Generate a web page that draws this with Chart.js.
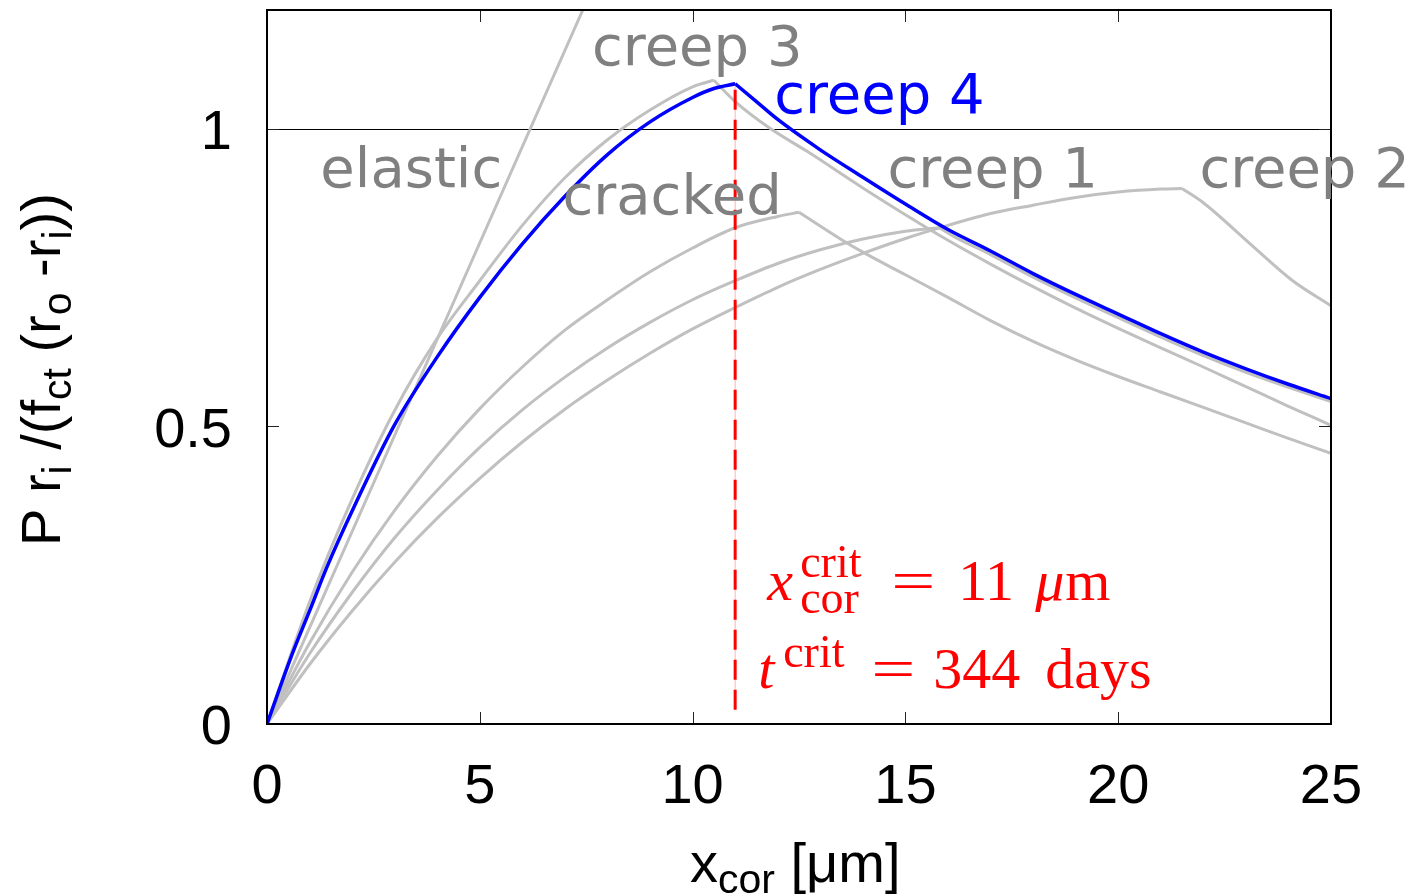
<!DOCTYPE html>
<html>
<head>
<meta charset="utf-8">
<script src="https://cdn.jsdelivr.net/npm/chart.js@4.4.0/dist/chart.umd.min.js"></script>
<style>
  html, body { margin: 0; padding: 0; background: #fff; }
  #wrap { width: 1411px; height: 896px; }
</style>
</head>
<body>
<div id="wrap"><canvas id="chart" width="1411" height="896"></canvas></div>
<script>
// normalised pressure vs corrosion depth, one curve per stage
const xElastic = [0, 7.42];
const yElastic = [0, 1.2];

const xCracked = [0, 1, 2, 3, 4, 5, 6, 7, 8, 9, 10, 11, 12, 12.5, 13.5, 14, 15, 16, 17, 18, 19, 20, 21, 22, 23, 24, 25];
const yCracked = [0, 0.136, 0.255, 0.359, 0.450, 0.530, 0.600, 0.662, 0.713, 0.760, 0.800, 0.834, 0.853, 0.860, 0.814, 0.793, 0.755, 0.717, 0.678, 0.643, 0.612, 0.584, 0.558, 0.532, 0.506, 0.480, 0.455];

const xCreep1 = [0, 1, 2, 3, 4, 5, 6, 7, 8, 9, 10, 11, 12, 13, 14, 15, 15.8, 16.2, 17, 18, 19, 20, 21, 22, 23, 24, 25];
const yCreep1 = [0, 0.118, 0.221, 0.313, 0.393, 0.465, 0.528, 0.583, 0.632, 0.675, 0.713, 0.745, 0.774, 0.797, 0.815, 0.828, 0.834, 0.817, 0.789, 0.751, 0.716, 0.683, 0.650, 0.619, 0.591, 0.566, 0.542];

const xCreep2 = [0, 1, 2, 3, 4, 5, 6, 7, 8, 9, 10, 11, 12, 13, 14, 15, 16, 17, 18, 19, 20, 21, 21.5, 22, 23.1, 24.1, 25];
const yCreep2 = [0, 0.100, 0.190, 0.272, 0.346, 0.413, 0.474, 0.529, 0.578, 0.623, 0.664, 0.700, 0.734, 0.764, 0.791, 0.816, 0.838, 0.858, 0.872, 0.885, 0.894, 0.899, 0.900, 0.876, 0.807, 0.745, 0.703];

const xCreep3 = [0, 1, 2, 3, 4, 5, 6, 7, 8, 9, 10, 10.5, 11, 11.8, 12.7, 14, 15, 16, 17, 18, 19, 20, 21, 22, 23, 24, 25];
const yCreep3 = [0, 0.205, 0.378, 0.527, 0.648, 0.745, 0.838, 0.918, 0.982, 1.032, 1.071, 1.082, 1.046, 1.002, 0.962, 0.901, 0.856, 0.813, 0.773, 0.735, 0.699, 0.665, 0.632, 0.600, 0.567, 0.534, 0.502];

const xCreep4 = [0, 0.6, 1, 1.41, 2, 3, 4, 5, 6, 7, 8, 9, 10, 10.5, 11, 11.5, 12, 13, 14, 15, 16, 17, 18, 19, 20, 21, 22, 23, 24, 25];
const yCreep4 = [0, 0.119, 0.19, 0.264, 0.358, 0.503, 0.617, 0.717, 0.807, 0.887, 0.957, 1.012, 1.053, 1.068, 1.076, 1.046, 1.016, 0.965, 0.919, 0.874, 0.831, 0.795, 0.757, 0.722, 0.689, 0.656, 0.625, 0.597, 0.571, 0.547];

// critical corrosion depth [um] and time [days]
const critX = 11;
const critDays = 344;
const critBottom = 0.024;
const critTop = 1.076;

const xTicks = [0, 5, 10, 15, 20, 25];
const yTicks = [0, 0.5, 1];
const yTickLabels = ['0', '0.5', '1'];
const refLevel = 1;

// curve labels: text, x, y (baseline), colour
const labelText = ['elastic', 'creep 3', 'creep 4', 'cracked', 'creep 1', 'creep 2'];
const labelX = [3.39, 10.11, 14.39, 9.52, 17.05, 24.38];
const labelY = [0.903, 1.107, 1.027, 0.857, 0.903, 0.903];
const labelColor = ['#808080', '#808080', '#0000ff', '#808080', '#808080', '#808080'];

const GREY = '#c0c0c0';

function pts(xs, ys) {
    return xs.map((x, i) => ({x: x, y: ys[i]}));
}

// split at the peak so the corner stays sharp, smooth on both sides
function curve(xs, ys, color, width, order) {
    const all = pts(xs, ys);
    const k = ys.indexOf(Math.max(...ys));
    const pieces = (k > 0 && k < ys.length - 1) ? [all.slice(0, k + 1), all.slice(k)] : [all];
    return pieces.map(p => ({
        data: p,
        showLine: true,
        borderColor: color,
        borderWidth: width,
        pointRadius: 0,
        cubicInterpolationMode: 'monotone',
        fill: false,
        order: order
    }));
}

function drawParts(ctx, x0, y0, parts) {
    parts.forEach(p => {
        ctx.font = p.font;
        ctx.save();
        ctx.translate(x0 + p.dx, y0 + p.dy);
        if (p.sx) ctx.scale(p.sx, 1);
        ctx.fillText(p.t, 0, 0);
        ctx.restore();
    });
}

const decorations = {
    id: 'decorations',
    beforeDatasetsDraw(chart) {
        // horizontal reference line at 1
        const ctx = chart.ctx;
        const a = chart.chartArea;
        const py = Math.round(chart.scales.y.getPixelForValue(refLevel)) + 0.5;
        ctx.save();
        ctx.strokeStyle = '#000';
        ctx.lineWidth = 1;
        ctx.beginPath();
        ctx.moveTo(a.left, py);
        ctx.lineTo(a.right, py);
        ctx.stroke();
        ctx.restore();
    },
    afterDraw(chart) {
        const ctx = chart.ctx;
        const a = chart.chartArea;
        const xs = chart.scales.x;
        const ys = chart.scales.y;
        ctx.save();

        // inward tick marks on all four sides
        ctx.strokeStyle = '#222';
        ctx.lineWidth = 1;
        ctx.beginPath();
        xTicks.forEach(v => {
            const px = Math.round(xs.getPixelForValue(v)) + 0.5;
            ctx.moveTo(px, a.bottom); ctx.lineTo(px, a.bottom - 12);
            ctx.moveTo(px, a.top); ctx.lineTo(px, a.top + 12);
        });
        yTicks.forEach(v => {
            const py = Math.round(ys.getPixelForValue(v)) + 0.5;
            ctx.moveTo(a.left, py); ctx.lineTo(a.left + 12, py);
            ctx.moveTo(a.right, py); ctx.lineTo(a.right - 12, py);
        });
        ctx.stroke();

        // frame
        ctx.strokeStyle = '#000';
        ctx.lineWidth = 2;
        ctx.strokeRect(a.left, a.top, a.right - a.left, a.bottom - a.top);

        // tick labels
        const sans = '"Liberation Sans"';
        const big = '56px ' + sans;
        const small = '41px ' + sans;
        ctx.fillStyle = '#000';
        ctx.font = big;
        ctx.textBaseline = 'alphabetic';
        ctx.textAlign = 'center';
        xTicks.forEach(v => {
            ctx.fillText(String(v), xs.getPixelForValue(v), a.bottom + 79);
        });
        ctx.textAlign = 'right';
        yTicks.forEach((v, i) => {
            ctx.fillText(yTickLabels[i], a.left - 35, ys.getPixelForValue(v) + 20);
        });

        // curve labels
        ctx.font = '56px "DejaVu Sans"';
        ctx.textAlign = 'center';
        labelText.forEach((t, i) => {
            ctx.fillStyle = labelColor[i];
            ctx.fillText(t, xs.getPixelForValue(labelX[i]), ys.getPixelForValue(labelY[i]));
        });

        // critical point annotation
        ctx.textAlign = 'left';
        ctx.fillStyle = '#ff0000';
        const serif = '"Liberation Serif"';
        const cx = xs.getPixelForValue(critX);
        drawParts(ctx, cx + 32, a.bottom - 124, [
            {t: 'x', dx: 0, dy: 0, font: 'italic 58px ' + serif},
            {t: 'crit', dx: 33, dy: -23, font: '46px ' + serif},
            {t: 'cor', dx: 33, dy: 13, font: '46px ' + serif},
            {t: '=', dx: 124, dy: 0, font: '58px ' + serif, sx: 1.35},
            {t: String(critX), dx: 191, dy: 0, font: '58px ' + serif},
            {t: 'μ', dx: 268, dy: 0, font: 'italic 58px ' + serif},
            {t: 'm', dx: 298, dy: 0, font: '58px ' + serif}
        ]);
        drawParts(ctx, cx + 23, a.bottom - 36, [
            {t: 't', dx: 0, dy: 0, font: 'italic 58px ' + serif},
            {t: 'crit', dx: 25, dy: -21, font: '46px ' + serif},
            {t: '=', dx: 113, dy: 0, font: '58px ' + serif, sx: 1.35},
            {t: String(critDays), dx: 175, dy: 0, font: '58px ' + serif},
            {t: 'days', dx: 287, dy: 0, font: '58px ' + serif}
        ]);

        // axis titles
        ctx.fillStyle = '#000';
        let px = 690;
        [['x', big, 0], ['cor', small, 11], [' [μm]', big, 0]].forEach(s => {
            ctx.font = s[1];
            ctx.fillText(s[0], px, 882 + s[2]);
            px += ctx.measureText(s[0]).width;
        });

        ctx.translate(60, 546);
        ctx.rotate(-Math.PI / 2);
        px = 0;
        [['P r', big, 0], ['i', small, 11], [' /(f', big, 0], ['ct', small, 11],
         [' (r', big, 0], ['o', small, 11], [' -r', big, 0], ['i', small, 11], ['))', big, 0]].forEach(s => {
            ctx.font = s[1];
            ctx.fillText(s[0], px, s[2]);
            px += ctx.measureText(s[0]).width;
        });

        ctx.restore();
    }
};

const ctx = document.getElementById('chart').getContext('2d');
new Chart(ctx, {
    type: 'scatter',
    data: {
        datasets: [
            {
                data: [{x: critX, y: critBottom}, {x: critX, y: critTop}],
                showLine: true, borderColor: '#ff0000', borderWidth: 3,
                borderDash: [20, 10], pointRadius: 0, order: 0
            },
            {
                data: [{x: critX, y: critBottom}, {x: critX, y: critTop}],
                showLine: true, borderColor: 'rgba(255,0,0,0.3)', borderWidth: 1,
                pointRadius: 0, order: 0
            },
            ...curve(xCreep4, yCreep4, '#0000ff', 3.5, 1),
            ...curve(xCreep3, yCreep3, GREY, 3, 2),
            ...curve(xCreep1, yCreep1, GREY, 3, 2),
            ...curve(xCreep2, yCreep2, GREY, 3, 2),
            ...curve(xCracked, yCracked, GREY, 3, 2),
            ...curve(xElastic, yElastic, GREY, 3, 2)
        ]
    },
    options: {
        responsive: false,
        animation: false,
        events: [],
        devicePixelRatio: 1,
        layout: { padding: { top: 10, right: 80, left: 0, bottom: 0 } },
        plugins: { legend: { display: false }, tooltip: { enabled: false } },
        scales: {
            x: {
                type: 'linear',
                min: 0, max: 25,
                grid: { display: false, drawTicks: false },
                border: { display: false },
                ticks: { display: false },
                afterFit: s => { s.height = 172; }
            },
            y: {
                type: 'linear',
                min: 0, max: 1.2,
                grid: { display: false, drawTicks: false },
                border: { display: false },
                ticks: { display: false },
                afterFit: s => { s.width = 267; }
            }
        }
    },
    plugins: [decorations]
});
</script>
</body>
</html>
